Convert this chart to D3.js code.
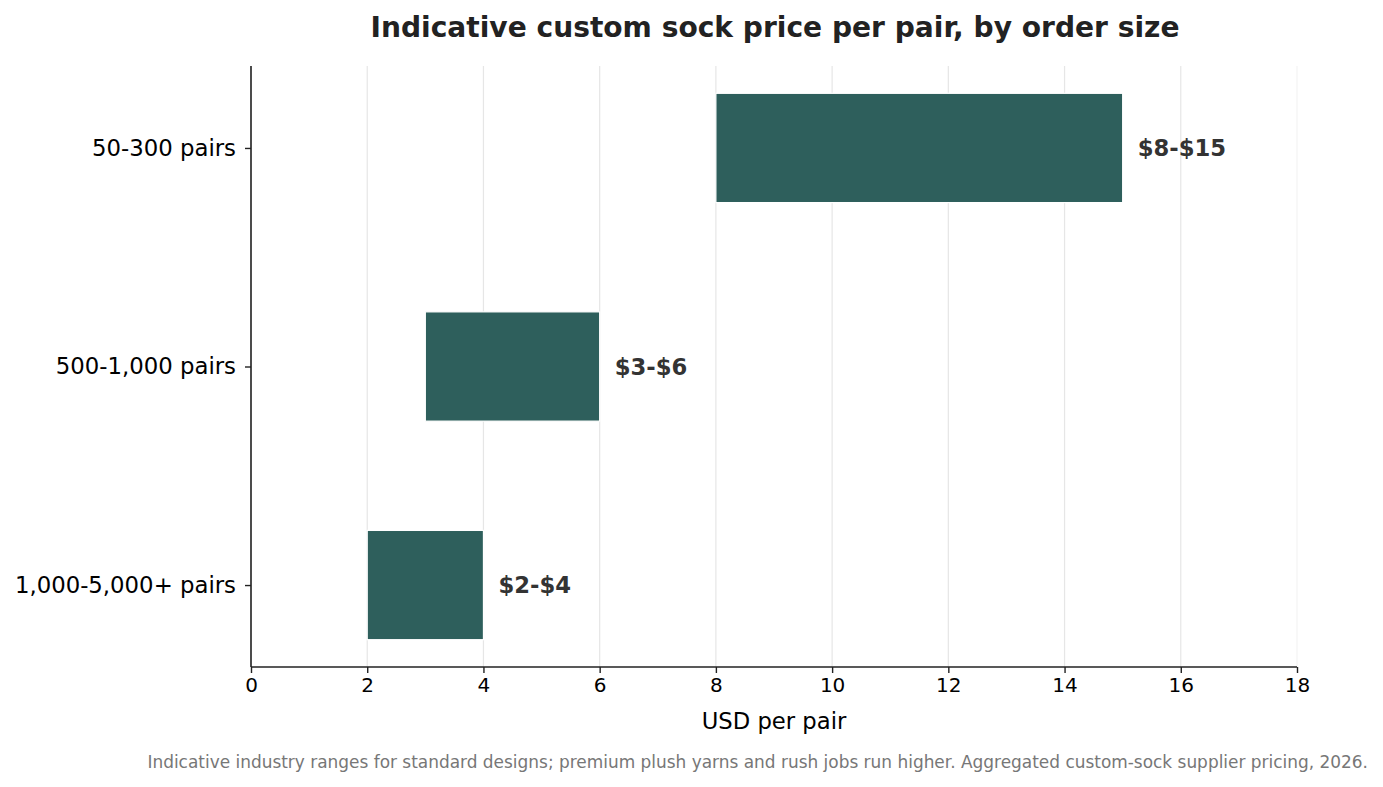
<!DOCTYPE html>
<html>
<head>
<meta charset="utf-8">
<script src="https://cdn.jsdelivr.net/npm/d3@7"></script>
<style>
  body { margin: 0; background: #fff; }
  text { font-family: "DejaVu Sans", sans-serif; }
</style>
</head>
<body>
<svg width="1383" height="787"></svg>
<script>
// order size tiers, top to bottom
var categories = ["50-300 pairs", "500-1,000 pairs", "1,000-5,000+ pairs"];
var lowPrice = [8, 3, 2];
var highPrice = [15, 6, 4];
var rangeLabels = ["$8-$15", "$3-$6", "$2-$4"];
var xTicks = [0, 2, 4, 6, 8, 10, 12, 14, 16, 18];

var svg = d3.select("svg"),
    margin = {top: 66, right: 86, bottom: 120, left: 251},
    width = +svg.attr("width") - margin.left - margin.right,
    height = +svg.attr("height") - margin.top - margin.bottom,
    g = svg.append("g").attr("transform", "translate(" + margin.left + "," + margin.top + ")");

var data = categories.map(function(c, i) {
  return {cat: c, i: i, lo: lowPrice[i], hi: highPrice[i], label: rangeLabels[i]};
});

var x = d3.scaleLinear().domain([0, 18]).range([0, width]);
// matplotlib-like bar positions: index with 0.5 bar height and 5% margins
var y = d3.scaleLinear().domain([-0.375, 2.375]).range([0, height]);
var barH = y(0.5) - y(0);

// grid
g.selectAll(".grid")
  .data(xTicks)
  .enter().append("line")
    .attr("class", "grid")
    .attr("x1", function(d) { return x(d); })
    .attr("x2", function(d) { return x(d); })
    .attr("y1", 0)
    .attr("y2", height)
    .attr("stroke", function(d) { return d === 18 ? "#f3f3f3" : "#e6e6e6"; })
    .attr("stroke-width", 1.2);

// bars
g.selectAll(".bar")
  .data(data)
  .enter().append("rect")
    .attr("class", "bar")
    .attr("x", function(d) { return x(d.lo); })
    .attr("y", function(d) { return y(d.i) - barH / 2; })
    .attr("width", function(d) { return x(d.hi) - x(d.lo); })
    .attr("height", barH)
    .attr("fill", "#2e5f5c")
    .attr("stroke", "#fff")
    .attr("stroke-width", 1.2);

g.selectAll(".val")
  .data(data)
  .enter().append("text")
    .attr("class", "val")
    .attr("x", function(d) { return x(d.hi) + 15; })
    .attr("y", function(d) { return y(d.i); })
    .attr("dy", "0.36em")
    .attr("font-size", "22.7px")
    .attr("font-weight", "bold")
    .attr("fill", "#333")
    .text(function(d) { return d.label; });

// x axis
var xAxis = g.append("g")
    .attr("transform", "translate(0," + height + ")")
    .call(d3.axisBottom(x).tickValues(xTicks).tickSize(6).tickPadding(5).tickFormat(d3.format("d")));
xAxis.selectAll("text").attr("font-size", "20px").attr("fill", "#000").style("font-family", "DejaVu Sans");

// y axis
var yAxis = g.append("g")
    .call(d3.axisLeft(y).tickValues(d3.range(categories.length)).tickSize(6).tickPadding(9)
      .tickFormat(function(i) { return categories[i]; }));
yAxis.selectAll("text").attr("font-size", "22.8px").attr("fill", "#000").style("font-family", "DejaVu Sans");

[xAxis, yAxis].forEach(function(a) {
  a.select(".domain").attr("stroke", "#222").attr("stroke-width", 1.6);
  a.selectAll(".tick line").attr("stroke", "#222").attr("stroke-width", 1.4);
});
// matplotlib spines have no outer ticks on the domain
xAxis.select(".domain").attr("d", "M0,0H" + width);
yAxis.select(".domain").attr("d", "M0,0V" + height);

svg.append("text")
    .attr("x", margin.left + width / 2)
    .attr("y", 729)
    .attr("text-anchor", "middle")
    .attr("font-size", "22.7px")
    .attr("fill", "#000")
    .text("USD per pair");

svg.append("text")
    .attr("x", margin.left + width / 2 + 1)
    .attr("y", 37)
    .attr("text-anchor", "middle")
    .attr("font-size", "28.1px")
    .attr("font-weight", "bold")
    .attr("fill", "#222")
    .text("Indicative custom sock price per pair, by order size");

svg.append("text")
    .attr("x", 1368)
    .attr("y", 768)
    .attr("text-anchor", "end")
    .attr("font-size", "16.95px")
    .attr("fill", "#777")
    .text("Indicative industry ranges for standard designs; premium plush yarns and rush jobs run higher. Aggregated custom-sock supplier pricing, 2026.");
</script>
</body>
</html>
